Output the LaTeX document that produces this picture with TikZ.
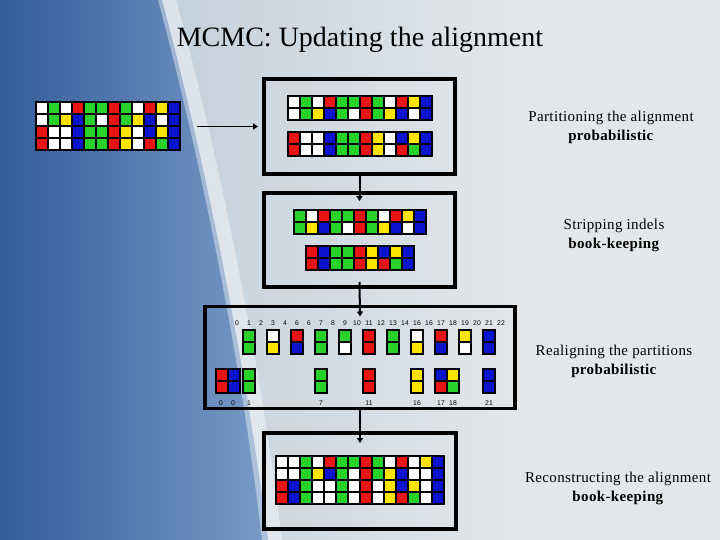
\documentclass[tikz,border=0pt]{standalone}
\usepackage{fontspec}
\setmainfont{Liberation Serif}
\newfontfamily\lblfont{Liberation Sans}
\usetikzlibrary{arrows.meta}
\definecolor{cW}{RGB}{255,255,255}
\definecolor{cG}{RGB}{40,210,40}
\definecolor{cR}{RGB}{232,20,20}
\definecolor{cY}{RGB}{250,228,0}
\definecolor{cB}{RGB}{10,20,205}
\definecolor{bgGray}{RGB}{228,231,233}
\definecolor{bgBlue}{RGB}{52,92,155}
\definecolor{bgMid}{RGB}{120,155,198}
\definecolor{bgLight}{RGB}{190,206,220}
\newcommand\algmat[5]{%
  \fill[black] (#1,#2) rectangle ++({#3*12+2},{#4*12+2});
  \foreach \rw [count=\ri from 0] in {#5}{%
    \foreach \cc [count=\ki from 0] in \rw {%
      \fill[fill=c\cc] ({#1+2+\ki*12},{#2+2+\ri*12}) rectangle ++(10,10);
    }%
  }%
}
\tikzset{
  stagebox/.style={draw=black, line width=3.5pt, inner sep=0pt, outer sep=0pt},
  arr/.style={line width=2pt, -{Triangle[length=5pt,width=6pt]}},
  lbl/.style={font=\lblfont\fontsize{6.8}{8}\selectfont, inner sep=0pt},
  desc/.style={font=\fontsize{15}{19}\selectfont\addfontfeatures{LetterSpace=2.5}, align=center, inner sep=0pt, anchor=north}
}
\begin{document}
\begin{tikzpicture}[x=1pt,y=-1pt]
\useasboundingbox (0,0) rectangle (720,540);
% background
\fill[bgGray] (0,0) rectangle (720,540);
\shade[left color=bgLight, right color=bgGray] (120,0) rectangle (520,540);
\shade[left color=bgBlue, right color=bgMid] (0,0) -- (162,0) .. controls (205,160) and (245,360) .. (268,540) -- (0,540) -- cycle;
\fill[white, opacity=0.4] (158,0) .. controls (201,160) and (241,360) .. (262,540) -- (282,540) .. controls (260,360) and (220,160) .. (176,0) -- cycle;
% title
\node[font=\fontsize{28}{32}\selectfont, anchor=base, inner sep=0pt] (title) at (360,46.7) {MCMC: Updating the alignment};
% stage boxes
\node[stagebox, minimum width=191pt, minimum height=95pt] (b1) at (359.5,126.5) {};
\node[stagebox, minimum width=191pt, minimum height=94pt] (b2) at (359.5,240) {};
\node[stagebox, minimum width=310pt, minimum height=102pt] (b3) at (360,357.5) {};
\node[stagebox, minimum width=192pt, minimum height=96pt] (b4) at (360,481) {};
% input alignment
\algmat{35}{101}{12}{4}{{W,G,W,R,G,G,R,G,W,R,Y,B},{W,G,Y,B,G,W,R,G,Y,B,W,B},{R,W,W,B,G,G,R,Y,W,B,Y,B},{R,W,W,B,G,G,R,Y,W,R,G,B}}
% stage 1
\algmat{287}{95}{12}{2}{{W,G,W,R,G,G,R,G,W,R,Y,B},{W,G,Y,B,G,W,R,G,Y,B,W,B}}
\algmat{287}{131}{12}{2}{{R,W,W,B,G,G,R,Y,W,B,Y,B},{R,W,W,B,G,G,R,Y,W,R,G,B}}
% stage 2
\algmat{293}{209}{11}{2}{{G,W,R,G,G,R,G,W,R,Y,B},{G,Y,B,G,W,R,G,Y,B,W,B}}
\algmat{305}{245}{9}{2}{{R,B,G,G,R,Y,B,Y,B},{R,B,G,G,R,Y,R,G,B}}
% stage 3 labels
\foreach \t [count=\i from 0] in {0,1,2,3,4,6,6,7,8,9,10,11,12,13,14,16,16,17,18,19,20,21,22}
  \node[lbl] (top\i) at ({237+12*\i},323.5) {\t};
\foreach \x/\t [count=\i] in {221/0,233/0,249/1,321/7,369/11,417/16,441/17,453/18,489/21}
  \node[lbl] (bot\i) at (\x,403) {\t};
% stage 3 top columns
\algmat{242}{329}{1}{2}{{G},{G}}
\algmat{266}{329}{1}{2}{{W},{Y}}
\algmat{290}{329}{1}{2}{{R},{B}}
\algmat{314}{329}{1}{2}{{G},{G}}
\algmat{338}{329}{1}{2}{{G},{W}}
\algmat{362}{329}{1}{2}{{R},{R}}
\algmat{386}{329}{1}{2}{{G},{G}}
\algmat{410}{329}{1}{2}{{W},{Y}}
\algmat{434}{329}{1}{2}{{R},{B}}
\algmat{458}{329}{1}{2}{{Y},{W}}
\algmat{482}{329}{1}{2}{{B},{B}}
% stage 3 realigned
\algmat{215}{368}{2}{2}{{R,B},{R,B}}
\algmat{242}{368}{1}{2}{{G},{G}}
\algmat{314}{368}{1}{2}{{G},{G}}
\algmat{362}{368}{1}{2}{{R},{R}}
\algmat{410}{368}{1}{2}{{Y},{Y}}
\algmat{434}{368}{2}{2}{{B,Y},{R,G}}
\algmat{482}{368}{1}{2}{{B},{B}}
% stage 4
\algmat{275}{455}{14}{4}{{W,W,G,W,R,G,G,R,G,W,R,W,Y,B},{W,W,G,Y,B,G,W,R,G,Y,B,W,W,B},{R,B,G,W,W,G,W,R,W,Y,B,Y,W,B},{R,B,G,W,W,G,W,R,W,Y,R,G,W,B}}
% connectors
\coordinate (src) at (197,126.5);
\draw[arr, line width=1.5pt, shorten >=6pt] (src) -- (b1.west);
\draw[arr] (b1.south) -- ([yshift=-8pt]b2.north);
\draw[arr] ([yshift=5pt]b2.south) -- ([yshift=-10pt]b3.north);
\draw[arr] ([yshift=2pt]b3.south) -- ([yshift=-10pt]b4.north);
% descriptions
\node[desc] (t1) at (611,110.5) {Partitioning the alignment\\\textbf{probabilistic}};
\node[desc] (t2) at (614,218.8) {Stripping indels\\\textbf{book-keeping}};
\node[desc] (t3) at (614,344.8) {Realigning the partitions\\\textbf{probabilistic}};
\node[desc] (t4) at (618,471.5) {Reconstructing the alignment\\\textbf{book-keeping}};
\end{tikzpicture}
\end{document}
